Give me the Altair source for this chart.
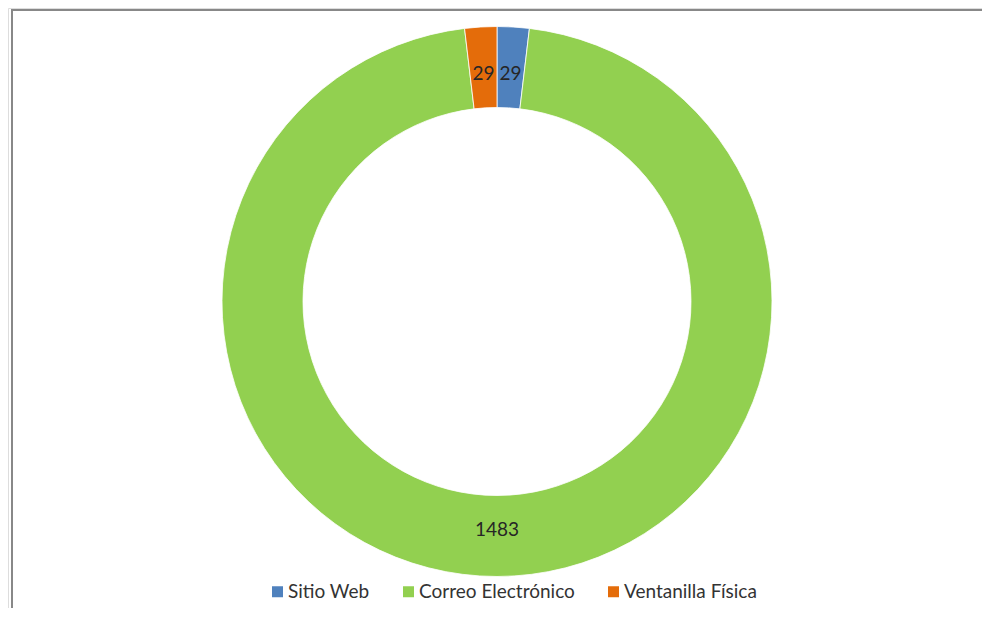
import altair as alt
import pandas as pd

categories = ["Sitio Web", "Correo Electrónico", "Ventanilla Física"]
values = [29, 1483, 29]
order_idx = [0, 1, 2]
colors = ["#4F81BD", "#92D050", "#E46C0A"]

df = pd.DataFrame({"cat": categories, "value": values, "idx": order_idx})

CX, CY = 489, 293.5
FONT = "Lato"

base = alt.Chart(df).encode(
    theta=alt.Theta("value:Q", stack=True),
    order=alt.Order("idx:Q"),
)

arcs = base.mark_arc(
    outerRadius=275, innerRadius=194, stroke="white", strokeWidth=0.8
).encode(
    x=alt.value(CX),
    y=alt.value(CY),
    color=alt.Color(
        "cat:N",
        scale=alt.Scale(domain=categories, range=colors),
        legend=alt.Legend(
            title=None,
            orient="none",
            direction="horizontal",
            legendX=260,
            legendY=574,
            symbolType="square",
            symbolSize=121,
            symbolStrokeWidth=0,
            labelFont=FONT,
            labelFontSize=19,
            labelColor="#333333",
            labelOffset=1,
            columnPadding=29,
            labelLimit=400,
        ),
    ),
)

labels = base.mark_text(
    radius=228, font=FONT, fontSize=19, color="#262626"
).encode(
    x=alt.value(CX),
    y=alt.value(CY),
    text=alt.Text("value:Q"),
)

frame_df = pd.DataFrame({"a": [0]})
top_line = alt.Chart(frame_df).mark_rule(color="#888888", strokeWidth=2).encode(
    x=alt.value(3), x2=alt.value(1200), y=alt.value(2)
)
left_line = alt.Chart(frame_df).mark_rule(color="#888888", strokeWidth=2).encode(
    x=alt.value(4), y=alt.value(1), y2=alt.value(800)
)

chart = alt.layer(top_line, left_line, arcs, labels).properties(
    width=974, height=600, autosize=alt.AutoSizeParams(type="none"), padding=0
).configure_view(stroke=None).configure(background="white")

chart.save("out.html", embed_options={"renderer": "svg", "actions": False})
